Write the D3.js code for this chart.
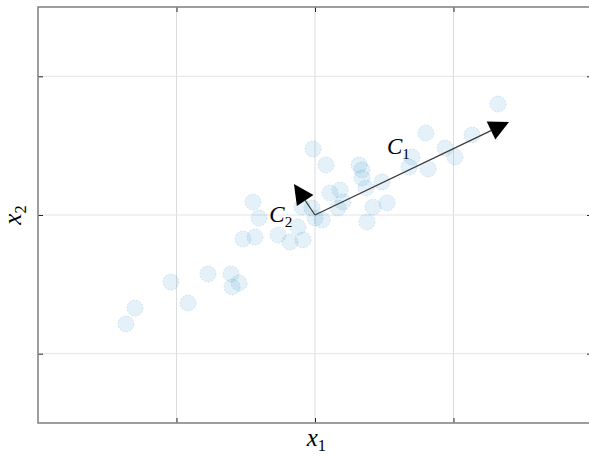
<!DOCTYPE html>
<html>
<head>
<meta charset="utf-8">
<script src="https://cdn.jsdelivr.net/npm/d3@7"></script>
<style>
  html, body { margin: 0; padding: 0; background: #fff; }
  svg { display: block; }
</style>
</head>
<body>
<svg id="chart" width="589" height="456"></svg>
<script>
// ---- data ----
const xTicks = [-1, 0, 1];
const yTicks = [-1, 0, 1];
const pointX = [-1.365, -1.300, -1.040, -0.917, -0.773, -0.606, -0.599, -0.549,
  -0.520, -0.433, -0.267, -0.181, -0.123, -0.087, -0.448, -0.404, -0.094, -0.022,
  0.000, 0.051, -0.014, 0.079, 0.108, 0.181, 0.202, 0.166, 0.318, 0.339, 0.339,
  0.368, 0.484, 0.419, 0.520, 0.375, 0.700, 0.679, 0.801, 0.816, 0.939, 1.011,
  1.134, 1.321];
const pointY = [-0.786, -0.671, -0.483, -0.635, -0.425, -0.425, -0.519, -0.490,
  -0.173, -0.159, -0.144, -0.195, -0.087, -0.180, 0.094, -0.022, 0.058, 0.050,
  -0.022, -0.036, 0.476, 0.361, 0.159, 0.180, 0.094, 0.050, 0.361, 0.325, 0.267,
  0.195, 0.238, 0.058, 0.087, -0.050, 0.418, 0.346, 0.591, 0.332, 0.483, 0.418,
  0.577, 0.800];
const arrowNames = ["1", "2"];
const arrowX = [1.401, -0.152];
const arrowY = [0.671, 0.224];

// ---- layout ----
const svg = d3.select("#chart");
const mLeft = 38, mRight = 592, mTop = 7, mBottom = 423;
const x = d3.scaleLinear().domain([-2, 2]).range([mLeft, mRight]);
const y = d3.scaleLinear().domain([-1.5, 1.5]).range([mBottom, mTop]);

// grid
const g = svg.append("g");
g.selectAll(".gx").data(xTicks).join("line")
  .attr("x1", d => x(d)).attr("x2", d => x(d))
  .attr("y1", mTop).attr("y2", mBottom)
  .attr("stroke", "#dcdcdc").attr("stroke-width", 1);
g.selectAll(".gy").data(yTicks).join("line")
  .attr("y1", d => y(d)).attr("y2", d => y(d))
  .attr("x1", mLeft).attr("x2", mRight)
  .attr("stroke", "#e4e4e4").attr("stroke-width", 1);

// points
const pts = pointX.map((v, i) => ({x: v, y: pointY[i]}));
svg.append("g").selectAll("circle").data(pts).join("circle")
  .attr("cx", d => x(d.x)).attr("cy", d => y(d.y)).attr("r", 8)
  .attr("fill", "rgb(0,114,189)").attr("fill-opacity", 0.1)
  .attr("stroke", "rgb(0,114,189)").attr("stroke-opacity", 0.15)
  .attr("stroke-width", 1).attr("stroke-dasharray", "2,1.5");

// axes with inward ticks
const tickLen = 5;
const axB = d3.axisBottom(x).tickValues(xTicks).tickSize(-tickLen).tickFormat("");
const axT = d3.axisTop(x).tickValues(xTicks).tickSize(-tickLen).tickFormat("");
const axL = d3.axisLeft(y).tickValues(yTicks).tickSize(-tickLen).tickFormat("");
const axR = d3.axisRight(y).tickValues(yTicks).tickSize(-tickLen).tickFormat("");
function style(sel) {
  sel.select(".domain").remove();
  sel.selectAll(".tick line").attr("stroke", "#262626").attr("stroke-width", 1);
}
svg.append("g").attr("transform", `translate(0,${mBottom})`).call(axB).call(style);
svg.append("g").attr("transform", `translate(0,${mTop})`).call(axT).call(style);
svg.append("g").attr("transform", `translate(${mLeft},0)`).call(axL).call(style);
svg.append("g").attr("transform", `translate(${mRight},0)`).call(axR).call(style);

// box
svg.append("rect").attr("x", mLeft).attr("y", mTop)
  .attr("width", mRight - mLeft).attr("height", mBottom - mTop)
  .attr("fill", "none").attr("stroke", "#868686").attr("stroke-width", 1.6);

// arrows
const headLen = 20, headW = 20;
const ox = x(0), oy = y(0);
arrowX.forEach((ax, i) => {
  const tx = x(ax), ty = y(arrowY[i]);
  const dx = tx - ox, dy = ty - oy, L = Math.hypot(dx, dy);
  const ux = dx / L, uy = dy / L;
  const bx = tx - ux * headLen, by = ty - uy * headLen;
  svg.append("line").attr("x1", ox).attr("y1", oy).attr("x2", bx).attr("y2", by)
    .attr("stroke", "#3a3a3a").attr("stroke-width", 1.3);
  const px = -uy, py = ux;
  svg.append("path")
    .attr("d", `M${tx},${ty}L${bx + px * headW / 2},${by + py * headW / 2}L${bx - px * headW / 2},${by - py * headW / 2}Z`)
    .attr("fill", "#000");
});

// arrow labels
const serif = "'Liberation Serif', 'DejaVu Serif', serif";
function label(sel, base, sub, fs) {
  sel.attr("font-family", serif).attr("font-style", "italic").attr("font-size", fs);
  sel.append("tspan").text(base);
  sel.append("tspan").attr("font-style", "normal").attr("font-size", fs * 0.66)
    .attr("dy", fs * 0.2).text(sub);
}
svg.append("text").attr("x", x(0.52)).attr("y", y(0.44)).call(label, "C", arrowNames[0], 23);
svg.append("text").attr("x", x(-0.33)).attr("y", y(-0.05)).call(label, "C", arrowNames[1], 23);

// axis labels
svg.append("text").attr("x", x(0.01)).attr("y", 446).attr("text-anchor", "middle")
  .call(label, "x", "1", 25);
svg.append("text").attr("transform", `translate(21,${y(0)}) rotate(-90)`)
  .attr("text-anchor", "middle").call(label, "x", "2", 25);
</script>
</body>
</html>
